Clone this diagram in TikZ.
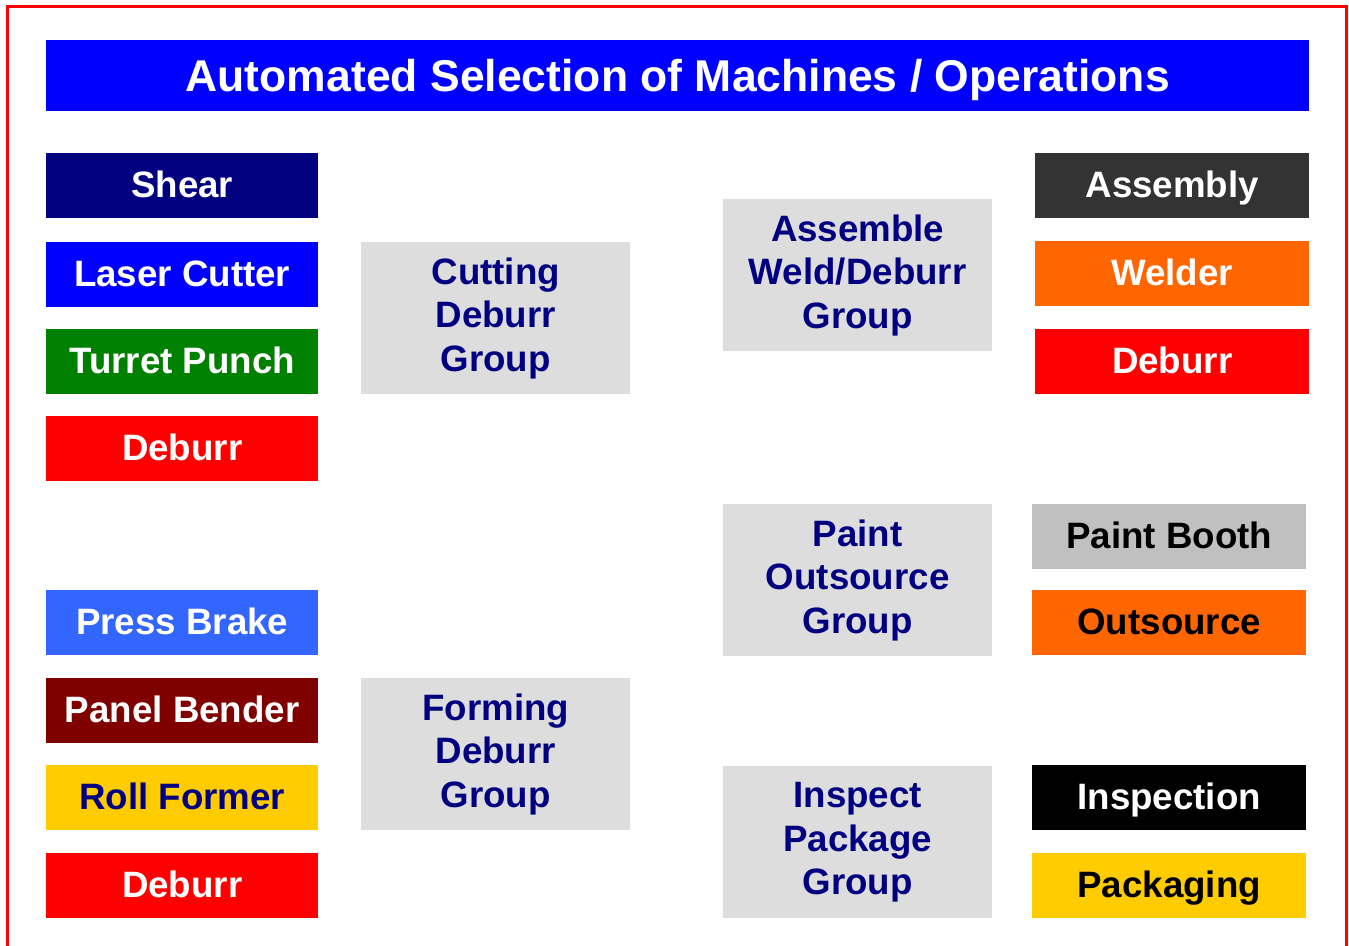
\documentclass[tikz,border=0pt]{standalone}
\usepackage{fontspec}
\setmainfont{Liberation Sans}
\definecolor{navy}{HTML}{000080}
\definecolor{pureblue}{HTML}{0000FF}
\definecolor{turretgreen}{HTML}{008000}
\definecolor{deburrred}{HTML}{FF0000}
\definecolor{brakeblue}{HTML}{3366FF}
\definecolor{maroon}{HTML}{800000}
\definecolor{gold}{HTML}{FFCC00}
\definecolor{charcoal}{HTML}{333333}
\definecolor{weldorange}{HTML}{FF6600}
\definecolor{silvergray}{HTML}{C0C0C0}
\definecolor{groupgray}{HTML}{DDDDDD}
\begin{document}
\begin{tikzpicture}[x=1pt,y=-1pt,
  tool/.style={rectangle, inner sep=0pt, anchor=north west,
    minimum width=272pt, minimum height=65pt,
    text height=26.4pt, text depth=2.2pt, text=white,
    font=\fontsize{36.7}{43.5}\selectfont\bfseries},
  righttool/.style={tool, minimum width=274pt},
  grp/.style={rectangle, inner sep=0pt, anchor=north west,
    minimum width=269pt, minimum height=152pt,
    fill=groupgray, text=navy, align=center,
    font=\fontsize{36.7}{43.5}\selectfont\bfseries},
  headline/.style={rectangle, inner sep=0pt, anchor=north west,
    minimum width=1263pt, minimum height=71pt, fill=pureblue,
    text=white, text height=31.9pt, text depth=0pt,
    font=\fontsize{44.5}{50}\selectfont\bfseries}
]
\useasboundingbox (0,0) rectangle (1349,945);
\fill[white] (0,0) rectangle (1349,945);

% outer frame
\draw[deburrred, line width=3pt] (7.5,6.5) rectangle (1346.5,970);

% heading
\node[headline] (title) at (46,40) {Automated Selection of Machines / Operations};

% cutting and forming machines
\node[tool, fill=navy]        (shear)  at (46,153) {Shear};
\node[tool, fill=pureblue]    (laser)  at (46,242) {Laser Cutter};
\node[tool, fill=turretgreen] (turret) at (46,329) {Turret Punch};
\node[tool, fill=deburrred]   (deburrA) at (46,416) {Deburr};
\node[tool, fill=brakeblue]   (brake)  at (46,590) {Press Brake};
\node[tool, fill=maroon]      (bender) at (46,678) {Panel Bender};
\node[tool, fill=gold, text=navy] (roll) at (46,765) {Roll Former};
\node[tool, fill=deburrred]   (deburrB) at (46,853) {Deburr};

% operation groups
\node[grp] (cutgrp)   at (361,242) {Cutting\\Deburr\\Group};
\node[grp] (formgrp)  at (361,678) {Forming\\Deburr\\Group};
\node[grp] (asmgrp)   at (723,199) {Assemble\\Weld/Deburr\\Group};
\node[grp] (paintgrp) at (723,504) {Paint\\Outsource\\Group};
\node[grp] (inspgrp)  at (723,766) {Inspect\\Package\\Group};

% assembly, finishing and shipping machines
\node[righttool, fill=charcoal]   (assembly) at (1035,153) {Assembly};
\node[righttool, fill=weldorange] (welder)   at (1035,241) {Welder};
\node[righttool, fill=deburrred]  (deburrC)  at (1035,329) {Deburr};
\node[righttool, fill=silvergray, text=black] (booth) at (1032,504) {Paint Booth};
\node[righttool, fill=weldorange, text=black] (outsrc) at (1032,590) {Outsource};
\node[righttool, fill=black]      (inspect)  at (1032,765) {Inspection};
\node[righttool, fill=gold, text=black] (pack) at (1032,853) {Packaging};
\end{tikzpicture}
\end{document}
